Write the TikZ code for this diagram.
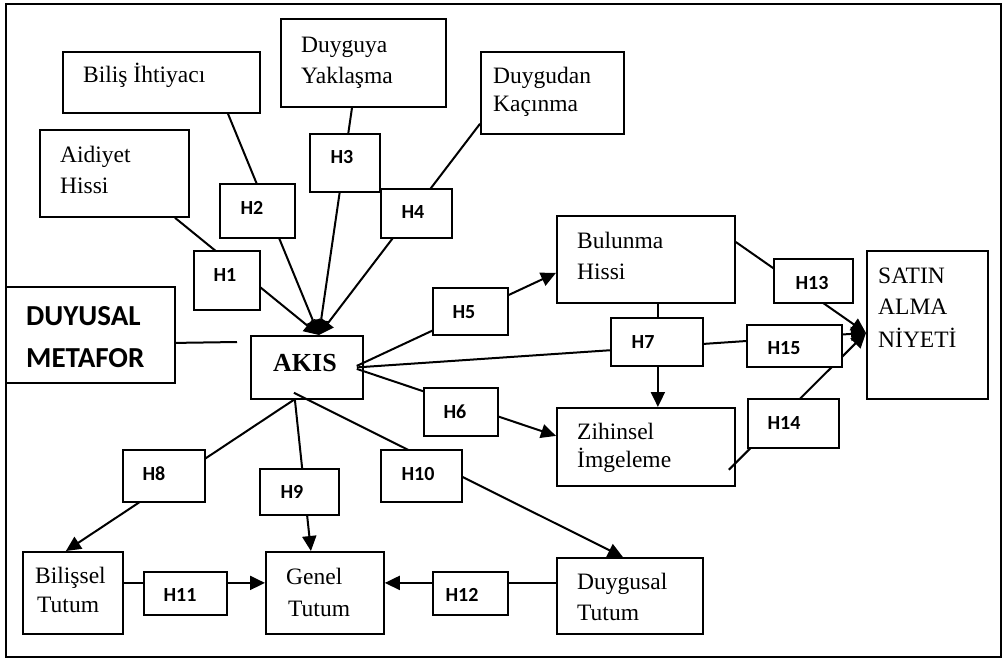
\documentclass[tikz,border=0pt]{standalone}
\usepackage{fontspec}
\setmainfont{Liberation Serif}
\newfontfamily\lblfont{Carlito}
\usetikzlibrary{arrows.meta,calc}

\tikzset{
  box/.style={draw, line width=1.8pt, anchor=north west, inner sep=0pt, fill=white},
  hyp/.style={draw, line width=1.8pt, anchor=north west, inner sep=0pt, fill=white},
  txt/.style={anchor=base west, inner sep=0pt, font=\fontsize{23.5}{28}\selectfont},
  htxt/.style={anchor=center, inner sep=0pt, font=\lblfont\bfseries\fontsize{20}{24}\selectfont},
  bigtxt/.style={anchor=base west, inner sep=0pt, font=\lblfont\bfseries\fontsize{29}{34}\selectfont},
  link/.style={line width=2pt},
  arr/.style={link, -{Triangle[length=15pt,width=14pt]}},
}

% box: name, left, top, width, height
\newcommand{\mybox}[5]{\node[box, minimum width=#4pt, minimum height=#5pt] (#1) at (#2,#3) {};}
% hypothesis box: name, left, top, width, height, label x, label y, label
\newcommand{\hypnode}[8]{%
  \node[hyp, minimum width=#4pt, minimum height=#5pt] (#1) at (#2,#3) {};
  \node[htxt] (#1-t) at (#6,#7) {#8};}

\begin{document}
\begin{tikzpicture}[x=1pt, y=-1pt]
\useasboundingbox (0,0) rectangle (1006,659);

% outer frame
\node[draw, line width=1.8pt, anchor=north west, inner sep=0pt,
      minimum width=995pt, minimum height=653pt] (frame) at (5,3) {};

% constructs
\mybox{bil}{62}{51}{197}{61}
\mybox{aid}{39}{129}{149}{87}
\mybox{yak}{280}{18}{165}{88}
\mybox{kac}{480}{51}{143}{82}
\mybox{duy}{5}{286}{169}{96}
\mybox{akis}{250}{335}{112}{63}
\mybox{bul}{556}{215}{178}{87}
\mybox{satin}{866}{250}{121}{148}
\mybox{zih}{556}{407}{178}{78}
\mybox{blt}{22}{551}{100}{82}
\mybox{gen}{265}{551}{118}{82}
\mybox{dgt}{556}{557}{146}{76}

% construct names
\node[txt] (bil-a) at (83,82) {Biliş İhtiyacı};
\node[txt] (aid-a) at (60,162) {Aidiyet};
\node[txt] (aid-b) at (60,193) {Hissi};
\node[txt] (yak-a) at (301,52) {Duyguya};
\node[txt] (yak-b) at (301,83) {Yaklaşma};
\node[txt] (kac-a) at (493,83) {Duygudan};
\node[txt] (kac-b) at (493,111) {Kaçınma};
\node[bigtxt] (duy-a) at (26,325) {DUYUSAL};
\node[bigtxt] (duy-b) at (26,367) {METAFOR};
\node[anchor=base west, inner sep=0pt, font=\bfseries\fontsize{26}{30}\selectfont]
     (akis-a) at (273,371) {AKIS};
\node[txt] (bul-a) at (577,248) {Bulunma};
\node[txt] (bul-b) at (577,279) {Hissi};
\node[txt] (satin-a) at (878,283) {SATIN};
\node[txt] (satin-b) at (878,314) {ALMA};
\node[txt] (satin-c) at (878,347) {NİYETİ};
\node[txt] (zih-a) at (577,439) {Zihinsel};
\node[txt] (zih-b) at (577,467) {İmgeleme};
\node[txt] (blt-a) at (35,583) {Bilişsel};
\node[txt] (blt-b) at (37,612) {Tutum};
\node[txt] (gen-a) at (286,584) {Genel};
\node[txt] (gen-b) at (288,616) {Tutum};
\node[txt] (dgt-a) at (577,589) {Duygusal};
\node[txt] (dgt-b) at (577,620) {Tutum};

% meeting points of the arrow heads
\coordinate (akin) at ($(akis.north)+(12,0)$);
\coordinate (satin-in) at ($(satin.west)+(0,8)$);
\coordinate (duy-end) at (237,342);

% paths into AKIS
\draw[arr] ($(aid.south west)+(136,0)$) -- (akin);
\draw[arr] ($(bil.south west)+(166,0)$) -- (akin);
\draw[arr] ($(yak.south west)+(72,0)$) -- (akin);
\draw[arr] ($(kac.south west)+(0,-11)$) -- (akin);
\draw[link] ($(duy.east)+(0,8)$) -- (duy-end);

% paths out of AKIS
\draw[arr] ($(akis.east)+(-7,-1.5)$) -- ($(bul.west)+(0,13.5)$);
\draw[arr] ($(akis.east)+(-7,1.5)$) -- ($(zih.west)+(0,-11)$);
\draw[arr] ($(akis.east)+(-7,0)$) -- (satin-in);
\draw[arr] ($(akis.south)+(-13,0)$) -- ($(blt.north)+(-7,0)$);
\draw[arr] ($(akis.south)+(-12,0)$) -- ($(gen.north)+(-14,0)$);
\draw[arr] ($(akis.south)+(-13,-7)$) -- ($(dgt.north)+(-7,0)$);

% remaining paths
\draw[arr] ($(bul.south)+(12,0)$) -- ($(zih.north)+(12,0)$);
\draw[arr] ($(bul.north east)+(0,27)$) -- (satin-in);
\draw[arr] ($(zih.south east)+(-7,-17)$) -- (satin-in);
\draw[arr] ($(blt.east)+(0,-10)$) -- ($(gen.west)+(0,-10)$);
\draw[arr] ($(dgt.west)+(0,-13)$) -- ($(gen.east)+(0,-10)$);

% hypothesis labels
\hypnode{h1}{193}{250}{66}{59}{225}{275}{H1}
\hypnode{h2}{219}{183}{75}{54}{252}{208}{H2}
\hypnode{h3}{309}{133}{70}{58}{342}{157}{H3}
\hypnode{h4}{380}{188}{71}{49}{413}{212}{H4}
\hypnode{h5}{432}{287}{75}{47}{464}{312}{H5}
\hypnode{h6}{423}{387}{74}{48}{455}{412}{H6}
\hypnode{h7}{610}{317}{92}{48}{643}{342}{H7}
\hypnode{h8}{122}{449}{82}{52}{154}{474}{H8}
\hypnode{h9}{259}{468}{79}{46}{292}{492}{H9}
\hypnode{h10}{380}{449}{81}{52}{418}{474}{H10}
\hypnode{h11}{143}{571}{83}{43}{180}{595}{H11}
\hypnode{h12}{432}{571}{75}{43}{462}{595}{H12}
\hypnode{h13}{773}{258}{79}{44}{812}{283}{H13}
\hypnode{h14}{747}{398}{91}{49}{784}{423}{H14}
\hypnode{h15}{746}{324}{95}{42}{784}{348}{H15}
\end{tikzpicture}
\end{document}
